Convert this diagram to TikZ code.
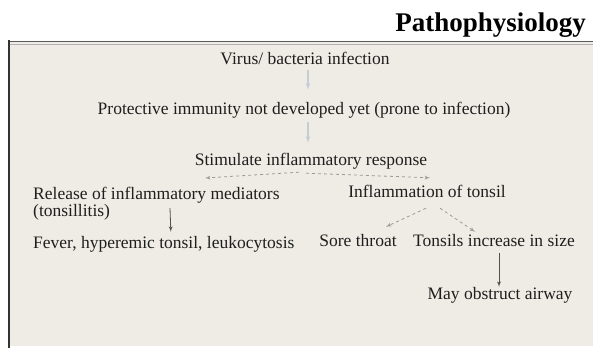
\documentclass[tikz,border=0pt]{standalone}
\usepackage{fontspec}
\setmainfont{Liberation Serif}
\usetikzlibrary{arrows}

\definecolor{boxfill}{HTML}{EEECE4}
\definecolor{inkgray}{HTML}{1E1E1E}
\definecolor{faintarrow}{HTML}{C3CDD5}
\definecolor{splitarrow}{HTML}{9A9A98}
\definecolor{darkarrow}{HTML}{505050}

\tikzset{
	plain/.style={inner sep=0pt, text=inkgray, font=\fontsize{17.5}{17}\selectfont},
	txt/.style={plain, text height=12pt, text depth=4pt},
	faint/.style={draw=faintarrow, line width=1.2pt, -latex'},
	split/.style={draw=splitarrow, dashed, line width=0.8pt, -latex'},
	down/.style={draw=darkarrow, line width=0.8pt, -latex'}
}

\begin{document}
\begin{tikzpicture}[x=1pt,y=-1pt]
			\useasboundingbox (0,0) rectangle (593,352);
			\fill[white](0,0) rectangle (593,352);
			\fill[boxfill](9,41) rectangle (593,346);
			\draw[color=black!65, line width=1.5pt](9,41.5) -- (593,41.5);
			\draw[color=black!30, line width=0.8pt](9,44) -- (593,44);
			\draw[color=black!80, line width=2.5pt](9,40.5) -- (9,348);
			\node[anchor=base east, inner sep=0pt, font=\fontsize{27}{27}\selectfont\bfseries](title) at (586,32) {Pathophysiology};
			\node[txt](virus) at (305,61) {Virus/ bacteria infection};
			\node[txt](protect) at (304,111) {Protective immunity not developed yet (prone to infection)};
			\node[txt](stim) at (311,162) {Stimulate inflammatory response};
			\node[plain, anchor=north west, align=left](release) at (33,187) {Release of inflammatory mediators\\(tonsillitis)};
			\node[txt](inflam) at (427,194) {Inflammation of tonsil};
			\node[txt, anchor=west](fever) at (33,244) {Fever, hyperemic tonsil, leukocytosis};
			\node[txt](sore) at (358,243) {Sore throat};
			\node[txt](tonsils) at (494,243) {Tonsils increase in size};
			\node[txt](obstruct) at (500,295) {May obstruct airway};
			\draw[faint]([shift={(3,1)}]virus.south) -- ([shift={(4,-13)}]protect.north);
			\draw[faint]([shift={(4,3)}]protect.south) -- ([shift={(-3,-11)}]stim.north);
			\draw[split]([shift={(-12,2)}]stim.south) -- ([shift={(172,-9)}]release.north west);
			\draw[split]([shift={(-5,3)}]stim.south) -- ([shift={(3,-8)}]inflam.north);
			\draw[down]([shift={(137,21)}]release.north west) -- ([shift={(7,-4)}]fever.north);
			\draw[split]([shift={(-1,6)}]inflam.south) -- ([shift={(28,-8)}]sore.north);
			\draw[split]([shift={(13,6)}]inflam.south) -- ([shift={(-19,-3)}]tonsils.north);
			\draw[down]([shift={(5,2)}]tonsils.south) -- ([shift={(-1,0)}]obstruct.north);
		\end{tikzpicture}
\end{document}
